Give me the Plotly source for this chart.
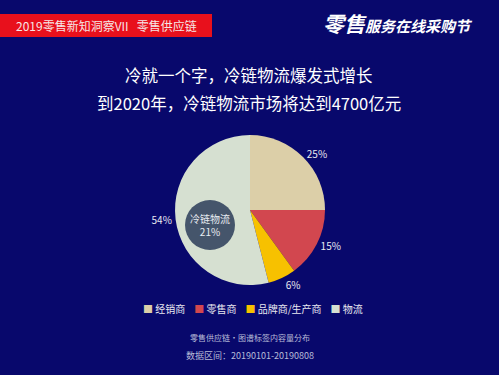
import plotly.graph_objects as go

categories = ["经销商", "零售商", "品牌商/生产商", "物流"]
values = [25, 15, 6, 54]
colors = ["#dccfa8", "#d2474f", "#f7c100", "#d6e0d1"]
inner_label = "冷链物流"
inner_value = "21%"
title_lines = ["冷就一个字，冷链物流爆发式增长", "到2020年，冷链物流市场将达到4700亿元"]
header = "2019零售新知洞察VII   零售供应链"
caption = ["零售供应链·图谱标签内容量分布", "数据区间：20190101-20190808"]

W, H = 499, 375
FONT = "Noto Sans CJK SC"
BG = "#08086c"

def px(x):
    return x / W

def py(y):
    return 1 - y / H

fig = go.Figure()
fig.add_trace(go.Pie(
    labels=categories, values=values, sort=False, direction="clockwise", rotation=0,
    marker=dict(colors=colors, line=dict(width=0)),
    textinfo="percent", textposition="outside",
    texttemplate="%{percent:.0%}",
    outsidetextfont=dict(color="#e8e8f0", size=10, family=FONT),
    domain=dict(x=[px(174), px(326)], y=[py(285), py(135)]),
    hoverinfo="label+percent",
    showlegend=False,
))

shapes = [
    dict(type="rect", xref="paper", yref="paper", x0=0, x1=px(212), y0=py(37), y1=py(14),
         fillcolor="#e8101c", line=dict(width=0), layer="above"),
    dict(type="circle", xref="paper", yref="paper", x0=px(185), x1=px(235), y0=py(250), y1=py(200),
         fillcolor="#45556b", line=dict(width=0), layer="above"),
]

legend_text = "&nbsp;&nbsp;&nbsp;&nbsp;".join(
    f"<span style='color:{c}'>■</span> {name}" for name, c in zip(categories, colors)
)

def ann(text, x, y, size, color, **kw):
    return dict(text=text, x=px(x), y=py(y), xref="paper", yref="paper", showarrow=False,
                xanchor="center", yanchor="middle",
                font=dict(color=color, size=size, family=FONT), **kw)

annotations = [
    ann(header, 106, 25.5, 12, "#f6e6e6"),
    ann("<b><i><span style='font-size:21px'>零售</span>服务在线采购节</i></b>", 398, 23, 15, "#ffffff"),
    ann(title_lines[0], 249, 75, 16.5, "#ffffff"),
    ann(title_lines[1], 249, 103, 16.5, "#ffffff"),
    ann(inner_label + "<br>" + inner_value, 210, 225, 10, "#e8ecf2"),
    ann(legend_text, 253, 308, 10, "#e8e8f0"),
    ann(caption[0], 250, 337, 8, "#b8bcd8"),
    ann(caption[1], 250, 355, 9, "#b8bcd8"),
]

fig.update_layout(
    width=W, height=H, margin=dict(l=0, r=0, t=0, b=0),
    paper_bgcolor=BG, plot_bgcolor=BG,
    shapes=shapes, annotations=annotations,
    showlegend=False,
)

fig.write_html("out.html")
